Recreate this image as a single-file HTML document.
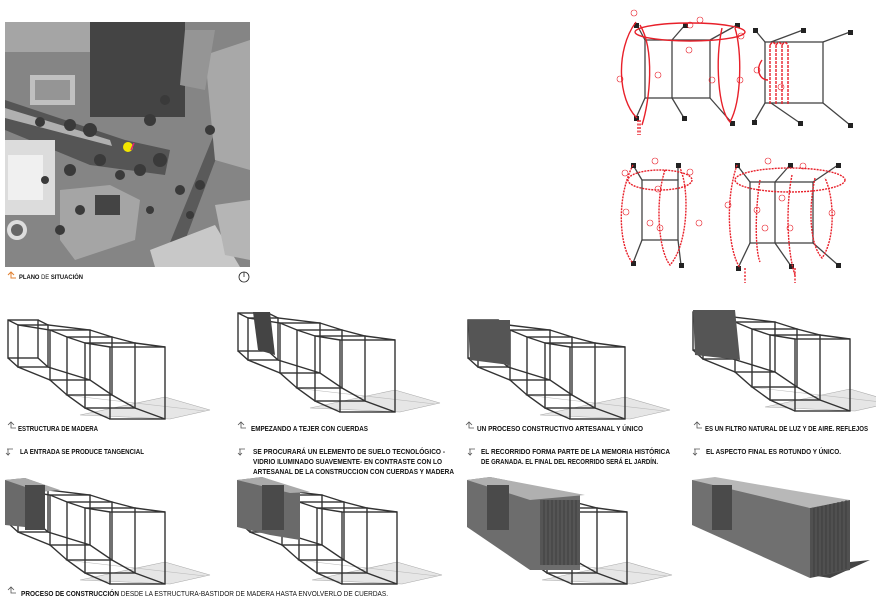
<!DOCTYPE html>
<html><head><meta charset="utf-8">
<style>
html,body{margin:0;padding:0;background:#fff;}
body{width:876px;height:615px;overflow:hidden;position:relative;font-family:"Liberation Sans",sans-serif;}
svg{position:absolute;left:0;top:0;}
.t{font-family:"Liberation Sans",sans-serif;font-weight:bold;font-size:7px;fill:#111;}
</style></head><body>
<svg width="876" height="615" viewBox="0 0 876 615">
<defs>
<g id="wf" fill="none" stroke="#333" stroke-width="1.4">
  <polygon points="75,100 165,104 205,95 160,82" fill="#e6e6e6" stroke="#aaa" stroke-width="0.6"/>
  <polyline points="60,80 200,96" stroke="#bbb" stroke-width="0.6"/>
  <rect x="3" y="5" width="30" height="38"/>
  <rect x="13" y="10" width="30" height="42"/>
  <rect x="45" y="15" width="40" height="50"/>
  <rect x="62" y="22" width="45" height="58"/>
  <rect x="80" y="28" width="50" height="65"/>
  <rect x="105" y="32" width="55" height="72"/>
  <polyline points="3,5 13,10 45,15 62,22 80,28 105,32"/>
  <polyline points="33,5 43,10 85,15 107,22 130,28 160,32"/>
  <polyline points="3,43 13,52 45,65 62,80 80,93 105,104"/>
  <polyline points="33,43 43,52 85,65 107,80 130,93 160,104"/>
</g>
</defs>

<!-- MAP -->
<rect x="5" y="22" width="245" height="245" fill="#858585"/>
<rect x="5" y="22" width="90" height="30" fill="#a5a5a5"/>
<rect x="90" y="22" width="95" height="95" fill="#444"/>
<rect x="30" y="75" width="45" height="30" fill="#c0c0c0"/>
<rect x="35" y="80" width="35" height="20" fill="#959595"/>
<polygon points="5,100 125,140 170,150 165,175 90,165 5,130" fill="#555"/>
<polygon points="5,108 110,140 112,146 5,118" fill="#b0b0b0"/>
<rect x="5" y="140" width="50" height="75" fill="#dcdcdc"/>
<rect x="8" y="155" width="35" height="45" fill="#f0f0f0"/>
<circle cx="17" cy="230" r="10" fill="#ddd"/><circle cx="17" cy="230" r="6" fill="#666"/>
<polygon points="60,190 110,185 140,200 135,240 75,260 60,240" fill="#a5a5a5"/>
<rect x="95" y="195" width="25" height="20" fill="#444"/>
<polygon points="160,267 230,95 240,95 175,267" fill="#5a5a5a"/>
<polygon points="205,55 250,40 250,170 215,160" fill="#a8a8a8"/>
<polygon points="185,30 215,30 205,90 180,85" fill="#959595"/>
<polygon points="150,250 215,225 240,267 155,267" fill="#c8c8c8"/>
<polygon points="215,205 250,200 250,260 225,255" fill="#b5b5b5"/>
<g fill="#3a3a3a">
<circle cx="70" cy="125" r="6"/><circle cx="90" cy="130" r="7"/><circle cx="40" cy="122" r="5"/><circle cx="150" cy="120" r="6"/>
<circle cx="160" cy="160" r="7"/><circle cx="140" cy="170" r="6"/><circle cx="70" cy="170" r="6"/><circle cx="80" cy="210" r="5"/>
<circle cx="60" cy="230" r="5"/><circle cx="180" cy="190" r="5"/><circle cx="200" cy="185" r="5"/><circle cx="165" cy="100" r="5"/>
<circle cx="100" cy="160" r="6"/><circle cx="210" cy="130" r="5"/>
<circle cx="120" cy="175" r="5"/><circle cx="45" cy="180" r="4"/><circle cx="150" cy="210" r="4"/><circle cx="190" cy="215" r="4"/>
</g>
<circle cx="128" cy="147" r="5" fill="#f2e600"/>
<line x1="131" y1="150" x2="134" y2="143" stroke="#e0207a" stroke-width="1.5"/>
<path d="M8,275 l3,-3 l3,3 M11,272 v6 h5" stroke="#e08030" stroke-width="1" fill="none"/>
<text x="19" y="279" class="t" style="font-size:6.5px" textLength="64" lengthAdjust="spacingAndGlyphs">PLANO <tspan style="font-weight:normal">DE</tspan> SITUACIÓN</text>
<circle cx="244" cy="277" r="5" fill="none" stroke="#222" stroke-width="0.8"/>
<line x1="244" y1="272" x2="244" y2="277" stroke="#222" stroke-width="0.8"/>

<!-- SKETCHES -->
<g fill="none" stroke="#444" stroke-width="1.3">
  <rect x="645" y="40" width="65" height="58"/><line x1="672" y1="40" x2="672" y2="98"/>
  <path d="M645,40 L637,25 M672,40 L685,25 M710,40 L737,25 M645,98 L636,118 M672,98 L684,118 M710,98 L732,123"/>
  <rect x="765" y="42" width="58" height="61"/>
  <path d="M765,42 L755,30 M771,42 L803,30 M823,42 L850,32 M765,103 L754,122 M771,103 L800,123 M823,103 L850,125"/>
  <rect x="642" y="180" width="36" height="60"/>
  <path d="M642,180 L633,165 M678,180 L678,165 M642,240 L633,263 M678,240 L681,265"/>
  <rect x="750" y="182" width="63" height="61"/><line x1="775" y1="182" x2="775" y2="243"/>
  <path d="M750,182 L737,165 M775,182 L790,165 M813,182 L838,165 M750,243 L738,268 M775,243 L791,266 M813,243 L838,265"/>
</g>
<g fill="#222">
<rect x="634" y="23" width="5" height="5"/><rect x="683" y="23" width="5" height="5"/><rect x="735" y="23" width="5" height="5"/>
<rect x="634" y="116" width="5" height="5"/><rect x="682" y="116" width="5" height="5"/><rect x="730" y="121" width="5" height="5"/>
<rect x="753" y="28" width="5" height="5"/><rect x="801" y="28" width="5" height="5"/><rect x="848" y="30" width="5" height="5"/>
<rect x="752" y="120" width="5" height="5"/><rect x="798" y="121" width="5" height="5"/><rect x="848" y="123" width="5" height="5"/>
<rect x="631" y="163" width="5" height="5"/><rect x="676" y="163" width="5" height="5"/><rect x="631" y="261" width="5" height="5"/><rect x="679" y="263" width="5" height="5"/>
<rect x="735" y="163" width="5" height="5"/><rect x="788" y="163" width="5" height="5"/><rect x="836" y="163" width="5" height="5"/>
<rect x="736" y="266" width="5" height="5"/><rect x="789" y="264" width="5" height="5"/><rect x="836" y="263" width="5" height="5"/>
</g>
<g fill="none" stroke="#e8202a" stroke-width="1.4">
  <ellipse cx="690" cy="32" rx="55" ry="9"/>
  <path d="M636,22 C615,50 618,100 637,118"/>
  <path d="M640,25 C655,50 650,100 642,125"/>
  <path d="M722,28 C715,60 718,110 730,122 C742,100 742,50 735,28"/>
  <path d="M770,45 v60 M776,45 v60 M782,45 v60 M788,45 v60 M770,45 q3,-5 6,0 M776,45 q3,-5 6,0 M782,45 q3,-5 6,0" stroke-dasharray="3,1"/>
  <path d="M762,60 C755,70 760,80 768,80"/>
  <ellipse cx="660" cy="180" rx="32" ry="10" stroke-dasharray="2,1"/>
  <path d="M633,165 C615,200 620,250 633,263" stroke-dasharray="2,1"/>
  <path d="M665,170 C655,200 658,250 670,265 C688,245 690,190 680,168" stroke-dasharray="2,1"/>
  <ellipse cx="790" cy="180" rx="55" ry="12" stroke-dasharray="2,1"/>
  <path d="M737,165 C725,200 728,250 740,268" stroke-dasharray="2,1"/>
  <path d="M760,180 C755,210 755,250 760,262" stroke-dasharray="2,1"/>
  <path d="M792,175 C785,210 788,255 795,275" stroke-dasharray="2,1"/>
  <path d="M815,178 C808,210 810,245 822,258 C835,240 835,200 825,178" stroke-dasharray="2,1"/>
  <path d="M640,120 v15 M640,120 m-2,0 v15 M745,268 v15 M795,268 v15" stroke-dasharray="2,1.5"/>
</g>
<g fill="none" stroke="#e8202a" stroke-width="0.6">
<circle cx="634" cy="13" r="3"/><circle cx="690" cy="25" r="3"/><circle cx="700" cy="20" r="3"/><circle cx="741" cy="36" r="3"/><circle cx="689" cy="50" r="3"/><circle cx="620" cy="79" r="3"/><circle cx="658" cy="75" r="3"/><circle cx="712" cy="80" r="3"/><circle cx="740" cy="80" r="3"/>
<circle cx="757" cy="70" r="3"/><circle cx="781" cy="87" r="3"/>
<circle cx="655" cy="161" r="3"/><circle cx="625" cy="173" r="3"/><circle cx="690" cy="172" r="3"/><circle cx="658" cy="189" r="3"/><circle cx="626" cy="212" r="3"/><circle cx="650" cy="223" r="3"/><circle cx="660" cy="228" r="3"/><circle cx="699" cy="223" r="3"/>
<circle cx="768" cy="161" r="3"/><circle cx="803" cy="166" r="3"/><circle cx="782" cy="198" r="3"/><circle cx="728" cy="205" r="3"/><circle cx="757" cy="210" r="3"/><circle cx="765" cy="228" r="3"/><circle cx="790" cy="228" r="3"/><circle cx="832" cy="213" r="3"/>
</g>

<!-- TOP ROW -->
<use href="#wf" x="5" y="315"/>
<use href="#wf" x="235" y="308"/>
<polygon points="253,312 270,312 275,355 258,350" fill="#444"/>
<use href="#wf" x="465" y="315"/>
<polygon points="468,320 510,320 510,365 470,360" fill="#555"/>
<use href="#wf" x="690" y="307"/>
<polygon points="693,310 735,310 740,360 695,355" fill="#555"/>

<path d="M8,425 l3,-3 l3,3 M11,422 v6 h5" stroke="#555" stroke-width="0.8" fill="none"/>
<text x="18" y="431" class="t" textLength="80" lengthAdjust="spacingAndGlyphs">ESTRUCTURA DE MADERA</text>
<path d="M238,425 l3,-3 l3,3 M241,422 v6 h5" stroke="#555" stroke-width="0.8" fill="none"/>
<text x="251" y="431" class="t" textLength="117" lengthAdjust="spacingAndGlyphs">EMPEZANDO A TEJER CON CUERDAS</text>
<path d="M466,425 l3,-3 l3,3 M469,422 v6 h5" stroke="#555" stroke-width="0.8" fill="none"/>
<text x="477" y="431" class="t" textLength="166" lengthAdjust="spacingAndGlyphs">UN PROCESO CONSTRUCTIVO ARTESANAL Y ÚNICO</text>
<path d="M694,425 l3,-3 l3,3 M697,422 v6 h5" stroke="#555" stroke-width="0.8" fill="none"/>
<text x="705" y="431" class="t" textLength="163" lengthAdjust="spacingAndGlyphs">ES UN FILTRO NATURAL DE LUZ Y DE AIRE. REFLEJOS</text>

<g stroke="#555" stroke-width="0.8" fill="none">
<path d="M7,449 h6 M8,449 v6 l-2,-2 M8,455 l2,-2"/>
<path d="M239,449 h6 M240,449 v6 l-2,-2 M240,455 l2,-2"/>
<path d="M469,449 h6 M470,449 v6 l-2,-2 M470,455 l2,-2"/>
<path d="M694,449 h6 M695,449 v6 l-2,-2 M695,455 l2,-2"/>
</g>
<text x="20" y="454" class="t" textLength="124" lengthAdjust="spacingAndGlyphs">LA ENTRADA SE PRODUCE TANGENCIAL</text>
<text x="253" y="454" class="t" textLength="192" lengthAdjust="spacingAndGlyphs">SE PROCURARÁ UN ELEMENTO DE SUELO TECNOLÓGICO -</text>
<text x="253" y="464" class="t" textLength="189" lengthAdjust="spacingAndGlyphs">VIDRIO ILUMINADO SUAVEMENTE- EN CONTRASTE CON LO</text>
<text x="253" y="474" class="t" textLength="201" lengthAdjust="spacingAndGlyphs">ARTESANAL DE LA CONSTRUCCION CON CUERDAS Y MADERA</text>
<text x="481" y="454" class="t" textLength="189" lengthAdjust="spacingAndGlyphs">EL RECORRIDO FORMA PARTE DE LA MEMORIA HISTÓRICA</text>
<text x="481" y="464" class="t" textLength="177" lengthAdjust="spacingAndGlyphs">DE GRANADA. EL FINAL DEL RECORRIDO SERÁ EL JARDÍN.</text>
<text x="706" y="454" class="t" textLength="135" lengthAdjust="spacingAndGlyphs">EL ASPECTO FINAL ES ROTUNDO Y ÚNICO.</text>

<!-- BOTTOM ROW -->
<use href="#wf" x="5" y="480"/>
<polygon points="5,480 25,478 45,485 45,530 25,527 5,525" fill="#6a6a6a"/>
<polygon points="5,480 25,478 60,490 40,492" fill="#aaa"/>
<rect x="25" y="485" width="20" height="45" fill="#4a4a4a"/>

<use href="#wf" x="237" y="480"/>
<polygon points="237,480 262,477 300,490 300,540 270,535 237,527" fill="#6a6a6a"/>
<polygon points="237,480 262,477 310,492 290,493" fill="#aaa"/>
<rect x="262" y="485" width="22" height="45" fill="#4a4a4a"/>

<use href="#wf" x="467" y="480"/>
<polygon points="467,480 490,477 580,495 580,570 530,570 467,527" fill="#6d6d6d"/>
<polygon points="467,480 490,477 585,495 530,500" fill="#b0b0b0"/>
<rect x="487" y="485" width="22" height="45" fill="#4a4a4a"/>
<rect x="540" y="500" width="40" height="65" fill="#555"/>
<path d="M544,500 v65 M548,500 v65 M552,500 v65 M556,500 v65 M560,500 v65 M564,500 v65 M568,500 v65 M572,500 v65 M576,500 v65" stroke="#3a3a3a" stroke-width="0.8"/>

<polygon points="810,575 850,562 870,560 830,578" fill="#444"/>
<polygon points="692,480 715,477 790,490 850,500 810,508 692,488" fill="#b8b8b8"/>
<polygon points="692,480 810,508 810,578 692,525" fill="#707070"/>
<polygon points="810,508 850,500 850,570 810,578" fill="#505050"/>
<path d="M814,508 v69 M818,507 v69 M822,506 v69 M826,505 v69 M830,504 v69 M834,503 v69 M838,502 v69 M842,501 v69 M846,500 v69" stroke="#3a3a3a" stroke-width="0.8"/>
<rect x="712" y="485" width="20" height="45" fill="#4a4a4a"/>

<path d="M8,590 l3,-3 l3,3 M11,587 v6 h5" stroke="#555" stroke-width="0.8" fill="none"/>
<text x="21" y="596" class="t" textLength="367" lengthAdjust="spacingAndGlyphs">PROCESO DE CONSTRUCCIÓN <tspan style="font-weight:normal">DESDE LA ESTRUCTURA-BASTIDOR DE MADERA HASTA ENVOLVERLO DE CUERDAS.</tspan></text>
</svg>
</body></html>
